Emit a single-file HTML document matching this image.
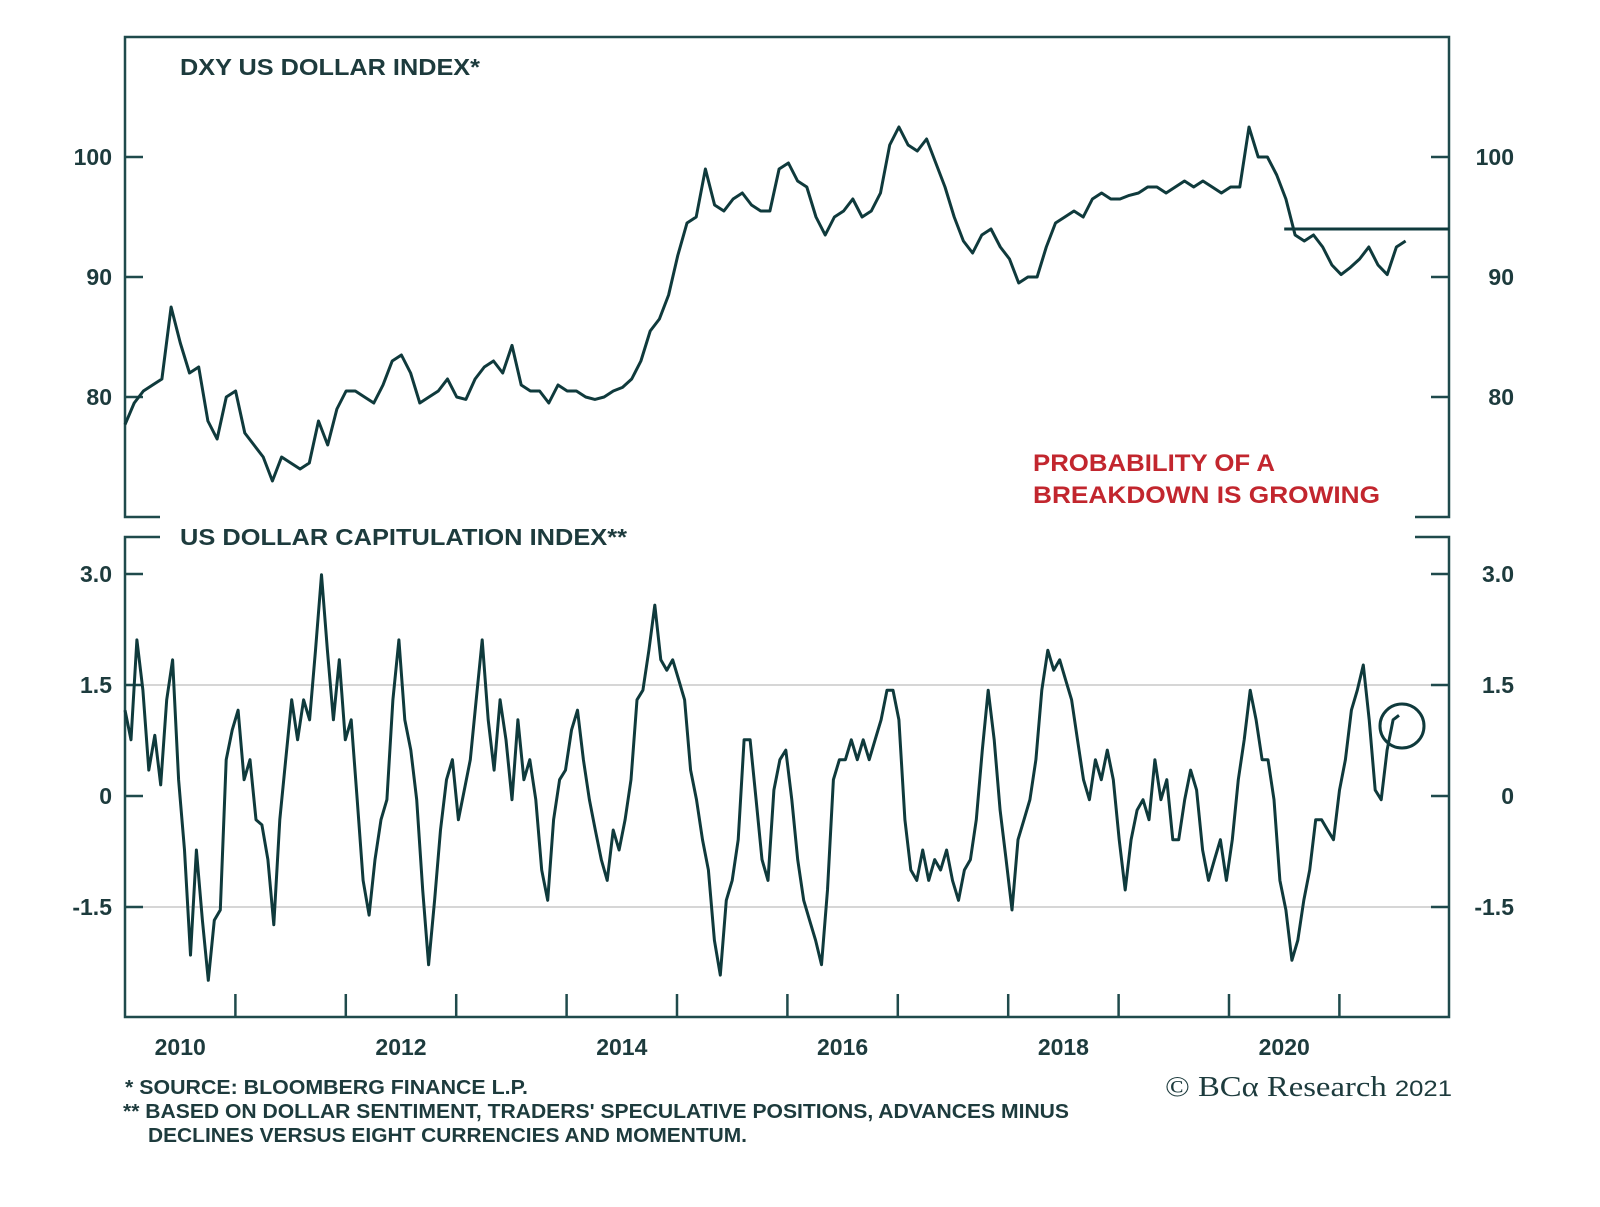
<!DOCTYPE html>
<html><head><meta charset="utf-8"><style>
body{margin:0;background:#fff;}
svg{display:block;font-family:"Liberation Sans",Arial,sans-serif;}
.t{font-weight:bold;fill:#1d3b3d;}
</style></head><body>
<svg id="chart" width="1600" height="1207" viewBox="0 0 1600 1207">
<g id="frames" stroke="#1f4a4c" stroke-width="2.5" fill="none">
  <path d="M160,517 H125 V37 H1449 V517 H1415"/>
  <path d="M160,537 H125 V1017 H1449 V537 H1415"/>
</g>
<text x="180" y="75" class="t" font-size="23" textLength="300" lengthAdjust="spacingAndGlyphs">DXY US DOLLAR INDEX*</text>
<text x="180" y="545" class="t" font-size="23" textLength="447" lengthAdjust="spacingAndGlyphs">US DOLLAR CAPITULATION INDEX**</text>
<text x="1033" y="471" font-size="24" font-weight="bold" fill="#c2262e" textLength="242" lengthAdjust="spacingAndGlyphs">PROBABILITY OF A</text>
<text x="1033" y="503" font-size="24" font-weight="bold" fill="#c2262e" textLength="347" lengthAdjust="spacingAndGlyphs">BREAKDOWN IS GROWING</text>
<g id="axes"></g>
<g id="series"></g>
<circle cx="1402" cy="726" r="22" fill="none" stroke="#0f3a3c" stroke-width="3"/>
<text x="125" y="1094" class="t" font-size="20" textLength="403" lengthAdjust="spacingAndGlyphs">*  SOURCE: BLOOMBERG FINANCE L.P.</text>
<text x="123" y="1118" class="t" font-size="20" textLength="946" lengthAdjust="spacingAndGlyphs">** BASED ON DOLLAR SENTIMENT, TRADERS' SPECULATIVE POSITIONS, ADVANCES MINUS</text>
<text x="148" y="1142" class="t" font-size="20" textLength="599" lengthAdjust="spacingAndGlyphs">DECLINES VERSUS EIGHT CURRENCIES AND MOMENTUM.</text>
<text x="1165" y="1096" font-family="Liberation Serif,serif" font-size="28" fill="#1d3b3d" textLength="287" lengthAdjust="spacingAndGlyphs">© BCα Research <tspan font-family="Liberation Sans,sans-serif" font-size="22">2021</tspan></text>
</svg>
<script>
const years=["2010","2012","2014","2016","2018","2020"];
const topTicks=[100,90,80];
const botTicks=[3.0,1.5,0,-1.5];
const botTickLabels=["3.0","1.5","0","-1.5"];
const startYear=2010.0;
const dxyEnd=2021.6;
const capEnd=2021.54;
const dxyLevel=94;
const dxyLevelStart=2020.5;
const dxy=[77.7,79.5,80.5,81,81.5,87.5,84.5,82,82.5,78,76.5,80,80.5,77,76,75,73,75,74.5,74,74.5,78,76,79,80.5,80.5,80,79.5,81,83,83.5,82,79.5,80,80.5,81.5,80,79.8,81.5,82.5,83,82,84.3,81,80.5,80.5,79.5,81,80.5,80.5,80,79.8,80,80.5,80.8,81.5,83,85.5,86.5,88.5,91.8,94.5,95,99,96,95.5,96.5,97,96,95.5,95.5,99,99.5,98,97.5,95,93.5,95,95.5,96.5,95,95.5,97,101,102.5,101,100.5,101.5,99.5,97.5,95,93,92,93.5,94,92.5,91.5,89.5,90,90,92.5,94.5,95,95.5,95,96.5,97,96.5,96.5,96.8,97,97.5,97.5,97,97.5,98,97.5,98,97.5,97,97.5,97.5,102.5,100,100,98.5,96.5,93.5,93,93.5,92.5,91,90.2,90.8,91.5,92.5,91,90.2,92.5,93];
const cap=[1.16,0.76,2.11,1.43,0.35,0.82,0.15,1.30,1.84,0.22,-0.73,-2.15,-0.73,-1.68,-2.49,-1.68,-1.54,0.49,0.89,1.16,0.22,0.49,-0.32,-0.39,-0.86,-1.74,-0.32,0.49,1.30,0.76,1.30,1.03,1.97,2.99,1.97,1.03,1.84,0.76,1.03,-0.05,-1.14,-1.61,-0.86,-0.32,-0.05,1.30,2.11,1.03,0.62,-0.05,-1.27,-2.28,-1.41,-0.46,0.22,0.49,-0.32,0.08,0.49,1.30,2.11,1.03,0.35,1.30,0.76,-0.05,1.03,0.22,0.49,-0.05,-1.0,-1.41,-0.32,0.22,0.35,0.89,1.16,0.49,-0.05,-0.46,-0.86,-1.14,-0.46,-0.73,-0.32,0.22,1.30,1.43,1.97,2.58,1.84,1.70,1.84,1.57,1.30,0.35,-0.05,-0.59,-1.0,-1.95,-2.42,-1.41,-1.14,-0.59,0.76,0.76,-0.05,-0.86,-1.14,0.08,0.49,0.62,-0.05,-0.86,-1.41,-1.68,-1.95,-2.28,-1.27,0.22,0.49,0.49,0.76,0.49,0.76,0.49,0.76,1.03,1.43,1.43,1.03,-0.32,-1.0,-1.14,-0.73,-1.14,-0.86,-1.0,-0.73,-1.14,-1.41,-1.0,-0.86,-0.32,0.62,1.43,0.76,-0.19,-0.86,-1.54,-0.59,-0.32,-0.05,0.49,1.43,1.97,1.70,1.84,1.57,1.30,0.76,0.22,-0.05,0.49,0.22,0.62,0.22,-0.59,-1.27,-0.59,-0.19,-0.05,-0.32,0.49,-0.05,0.22,-0.59,-0.59,-0.05,0.35,0.08,-0.73,-1.14,-0.86,-0.59,-1.14,-0.59,0.22,0.76,1.43,1.03,0.49,0.49,-0.05,-1.14,-1.54,-2.22,-1.95,-1.41,-1.0,-0.32,-0.32,-0.46,-0.59,0.08,0.49,1.16,1.43,1.77,1.03,0.08,-0.05,0.62,1.03,1.09];

const NS="http://www.w3.org/2000/svg";
const X0=125,YPX=110.4;
const xs=t=>X0+(t-startYear)*YPX;
const yTop=v=>157+(100-v)*12;
const yBot=v=>796-v*74;
const axes=document.getElementById('axes');
const ser=document.getElementById('series');
function mk(tag,attrs,parent){const e=document.createElementNS(NS,tag);for(const k in attrs)e.setAttribute(k,attrs[k]);parent.appendChild(e);return e;}

topTicks.forEach(v=>{
  const y=yTop(v);
  const l=mk('path',{d:`M125,${y}H143M1449,${y}H1431`,stroke:'#1f4a4c','stroke-width':2.5},axes);
  
  
  const a=mk('text',{x:112,y:y+8,'text-anchor':'end','font-size':23,class:'t'},axes);a.textContent=v;
  
  
  const b=mk('text',{x:1514,y:y+8,'text-anchor':'end','font-size':23,class:'t'},axes);b.textContent=v;
  
  
});
botTicks.forEach((v,i)=>{
  const y=yBot(v);
  if(v===1.5||v===-1.5){const g=mk('line',{x1:125,x2:1449,y1:y,y2:y,stroke:'#c8c8c8','stroke-width':1.5},axes);
    
    }
  const l=mk('path',{d:`M125,${y}H143M1449,${y}H1431`,stroke:'#1f4a4c','stroke-width':2.5},axes);
  
  
  const a=mk('text',{x:112,y:y+8,'text-anchor':'end','font-size':23,class:'t'},axes);a.textContent=botTickLabels[i];
  
  
  const b=mk('text',{x:1514,y:y+8,'text-anchor':'end','font-size':23,class:'t'},axes);b.textContent=botTickLabels[i];
  
  
});
for(let yr=2011;yr<=2021;yr++){
  const x=xs(yr);
  const t=mk('line',{x1:x,x2:x,y1:1017,y2:994,stroke:'#1f4a4c','stroke-width':2.5},axes);
  
  
}
years.forEach(s=>{
  const x=xs(+s+0.5);
  const t=mk('text',{x:x,y:1055,'text-anchor':'middle','font-size':23,class:'t'},axes);t.textContent=s;
  
  
});
function line(arr,end,yf){
  const n=arr.length,step=(end-startYear)/(n-1);
  return arr.map((v,i)=>(i?'L':'M')+xs(startYear+i*step).toFixed(1)+','+yf(v).toFixed(1)).join('');
}
const p1=mk('path',{d:line(dxy,dxyEnd,yTop),fill:'none',stroke:'#0f3a3c','stroke-width':3,'stroke-linejoin':'round'},ser);


const lv=mk('line',{x1:xs(dxyLevelStart),x2:1449,y1:yTop(dxyLevel),y2:yTop(dxyLevel),stroke:'#0f3a3c','stroke-width':3},ser);


const p2=mk('path',{d:line(cap,capEnd,yBot),fill:'none',stroke:'#0f3a3c','stroke-width':3,'stroke-linejoin':'round'},ser);


</script>
</body></html>
